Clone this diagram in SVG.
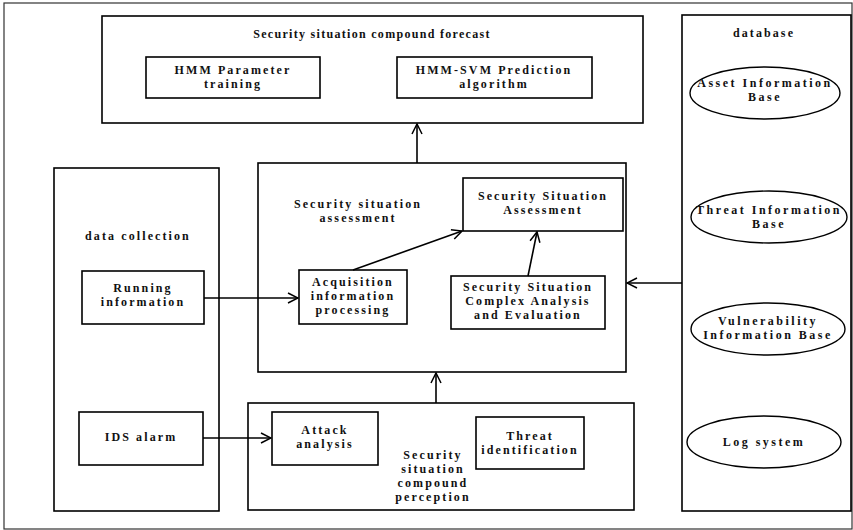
<svg xmlns="http://www.w3.org/2000/svg" width="853" height="530" viewBox="0 0 853 530">
<defs>
<marker id="arr" viewBox="0 0 12 12" refX="11" refY="6" markerWidth="12" markerHeight="12" markerUnits="userSpaceOnUse" orient="auto">
<path d="M1,1 L11,6 L1,11" fill="none" stroke="#000" stroke-width="1.5"/>
</marker>
<style>
rect{fill:#fff;stroke:#000;stroke-width:1.6}
ellipse{fill:#fff;stroke:#000;stroke-width:1.4}
text{font-family:"Liberation Serif","Times New Roman",serif;font-weight:bold;font-size:12px;text-anchor:middle;fill:#111;letter-spacing:2.1px}
.t{letter-spacing:1.3px}
.e{letter-spacing:2.5px}
.c line{stroke:#000;stroke-width:1.6;marker-end:url(#arr)}
</style>
</defs>
<rect x="0" y="0" width="853" height="530" style="stroke:none"/>
<rect id="frame" x="4" y="3" width="848" height="526" style="stroke:#333;stroke-width:1.2"/>
<g id="forecast">
<rect x="102" y="16" width="541" height="107"/>
<text class="t" x="372" y="38">Security situation compound forecast</text>
</g>
<g id="hmm-param">
<rect x="146" y="57" width="174" height="41"/>
<text x="233" y="74">HMM Parameter</text>
<text x="233" y="88">training</text>
</g>
<g id="hmm-svm">
<rect x="397" y="57" width="195" height="41"/>
<text x="494" y="74">HMM-SVM Prediction</text>
<text x="494" y="88">algorithm</text>
</g>
<g id="assessment">
<rect x="258" y="163" width="368" height="209"/>
<text x="358" y="208">Security situation</text>
<text x="358" y="222">assessment</text>
</g>
<g id="ssa">
<rect x="463" y="178" width="160" height="53"/>
<text x="543" y="200">Security Situation</text>
<text x="543" y="214">Assessment</text>
</g>
<g id="acq">
<rect x="299" y="270" width="108" height="54"/>
<text x="353" y="286">Acquisition</text>
<text x="353" y="300">information</text>
<text x="353" y="314">processing</text>
</g>
<g id="complex">
<rect x="451" y="276" width="154" height="53"/>
<text x="528" y="291">Security Situation</text>
<text x="528" y="305">Complex Analysis</text>
<text x="528" y="319">and Evaluation</text>
</g>
<g id="collection">
<rect x="54" y="168" width="165" height="343"/>
<text x="138" y="240">data collection</text>
</g>
<g id="running">
<rect x="82" y="271" width="122" height="53"/>
<text x="143" y="292">Running</text>
<text x="143" y="306">information</text>
</g>
<g id="ids">
<rect x="79" y="412" width="124" height="53"/>
<text x="141" y="441">IDS alarm</text>
</g>
<g id="perception">
<rect x="248" y="403" width="386" height="107"/>
<text x="433" y="459">Security</text>
<text x="433" y="473">situation</text>
<text x="433" y="487">compound</text>
<text x="433" y="501">perception</text>
</g>
<g id="attack">
<rect x="272" y="412" width="106" height="53"/>
<text x="325" y="434">Attack</text>
<text x="325" y="448">analysis</text>
</g>
<g id="threat-id">
<rect x="476" y="417" width="108" height="52"/>
<text x="530" y="440">Threat</text>
<text x="530" y="454">identification</text>
</g>
<g id="database">
<rect x="682" y="15" width="169" height="496"/>
<text x="764" y="37">database</text>
</g>
<g id="asset">
<ellipse cx="765" cy="93" rx="75" ry="26"/>
<text class="e" x="765" y="87">Asset Information</text>
<text class="e" x="765" y="101">Base</text>
</g>
<g id="threat-base">
<ellipse cx="769" cy="217" rx="78" ry="26"/>
<text class="e" x="769" y="214">Threat Information</text>
<text class="e" x="769" y="228">Base</text>
</g>
<g id="vuln">
<ellipse cx="768" cy="329" rx="77" ry="26"/>
<text class="e" x="768" y="325">Vulnerability</text>
<text class="e" x="768" y="339">Information Base</text>
</g>
<g id="log">
<ellipse cx="764" cy="442" rx="77" ry="26"/>
<text class="e" x="764" y="446">Log system</text>
</g>
<g id="connectors" class="c">
<line x1="417" y1="163" x2="417" y2="124"/>
<line x1="436" y1="403" x2="436" y2="373"/>
<line x1="682" y1="283" x2="627" y2="283"/>
<line x1="204" y1="298" x2="298" y2="298"/>
<line x1="203" y1="438" x2="271" y2="438"/>
<line x1="353" y1="270" x2="462" y2="231"/>
<line x1="528" y1="276" x2="537" y2="232"/>
</g>
</svg>
